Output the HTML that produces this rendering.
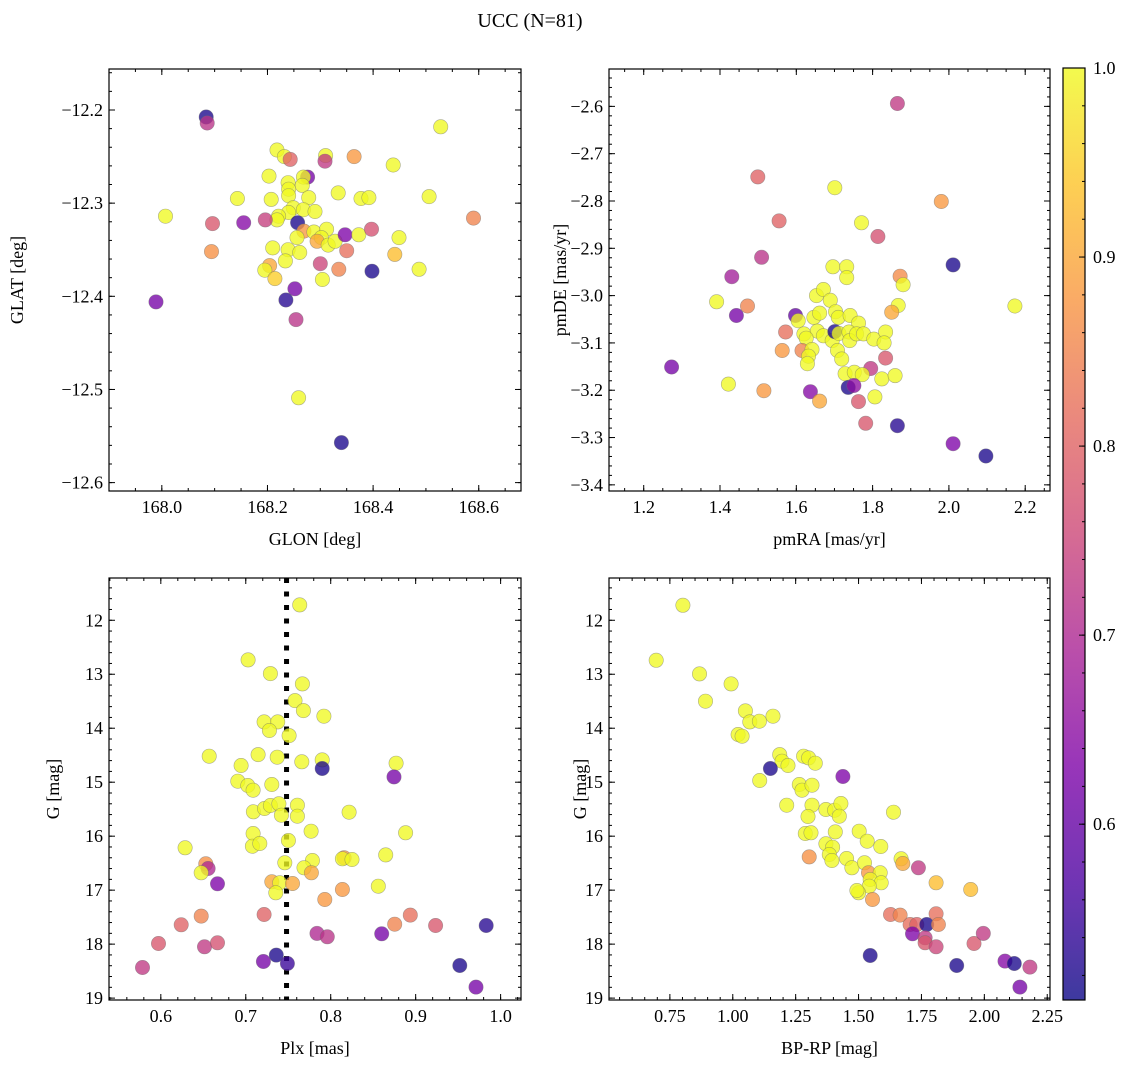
<!DOCTYPE html>
<html><head><meta charset="utf-8">
<style>
html,body{margin:0;padding:0;background:#fff;}
svg{display:block;font-family:"Liberation Serif","DejaVu Serif",serif;}
</style></head>
<body>
<svg id="fig" width="1136" height="1068" viewBox="0 0 1136 1068" xmlns="http://www.w3.org/2000/svg">
<defs>
<linearGradient id="cbgrad" x1="0" y1="1" x2="0" y2="0">
<stop offset="0" stop-color="#0d0887"/><stop offset="0.125" stop-color="#4c02a1"/><stop offset="0.25" stop-color="#7e03a8"/><stop offset="0.375" stop-color="#a92395"/><stop offset="0.5" stop-color="#cc4778"/><stop offset="0.625" stop-color="#e56b5d"/><stop offset="0.75" stop-color="#f89540"/><stop offset="0.875" stop-color="#fdc328"/><stop offset="1" stop-color="#f0f921"/>
</linearGradient>
</defs>
<text x="530" y="27" font-size="20" text-anchor="middle">UCC (N=81)</text>
</svg>
<script>
// ---------- data ----------
const p1Glon=[168.084,168.086,168.528,168.218,168.232,168.243,168.310,168.309,168.364,168.438,168.203,168.276,168.268,168.239,168.266,168.240,168.240,168.143,168.207,168.278,168.334,168.377,168.392,168.506,168.007,168.249,168.268,168.240,168.221,168.290,168.218,168.096,168.155,168.196,168.257,168.590,168.269,168.288,168.312,168.302,168.294,168.256,168.315,168.328,168.347,168.373,168.397,168.449,168.094,168.210,168.239,168.261,168.350,168.441,168.234,168.204,168.195,168.300,168.335,168.398,168.487,168.214,168.304,168.252,168.235,167.989,168.254,168.259,168.340];
const p1Glat=[-12.2075,-12.214,-12.218,-12.243,-12.250,-12.253,-12.249,-12.255,-12.250,-12.259,-12.271,-12.272,-12.272,-12.278,-12.281,-12.285,-12.292,-12.295,-12.296,-12.294,-12.289,-12.295,-12.294,-12.293,-12.314,-12.305,-12.307,-12.310,-12.314,-12.309,-12.318,-12.322,-12.321,-12.318,-12.321,-12.316,-12.330,-12.331,-12.328,-12.337,-12.341,-12.337,-12.345,-12.341,-12.334,-12.334,-12.328,-12.337,-12.352,-12.348,-12.350,-12.353,-12.351,-12.355,-12.362,-12.367,-12.372,-12.365,-12.371,-12.373,-12.371,-12.381,-12.382,-12.392,-12.404,-12.406,-12.425,-12.509,-12.557];
const p1Prob=[0.52,0.72,1,1,1,0.8,1,0.73,0.88,1,1,0.62,1,1,1,1,1,1,1,1,1,1,1,1,1,1,1,1,1,1,1,0.78,0.64,0.74,0.52,0.85,0.88,1,1,1,0.9,1,1,1,0.63,1,0.77,1,0.87,1,1,1,0.82,0.93,1,0.9,1,0.75,0.85,0.52,1,0.95,1,0.62,0.53,0.62,0.72,1,0.52];

const p2Pmra=[1.865,1.499,1.701,1.980,1.555,1.771,1.814,1.509,2.011,1.431,1.696,1.732,1.732,1.872,1.880,1.391,1.472,2.173,1.653,1.671,1.689,1.867,1.850,1.443,1.598,1.605,1.646,1.661,1.703,1.710,1.741,1.763,1.572,1.620,1.655,1.671,1.694,1.701,1.712,1.738,1.740,1.758,1.776,1.803,1.834,1.830,1.626,1.563,1.615,1.641,1.632,1.629,1.708,1.719,1.834,1.273,1.795,1.728,1.752,1.773,1.824,1.859,1.422,1.736,1.751,1.515,1.637,1.661,1.763,1.806,1.782,1.865,2.011,2.097];
const p2Pmde=[-2.594,-2.749,-2.772,-2.801,-2.842,-2.846,-2.875,-2.919,-2.935,-2.960,-2.939,-2.939,-2.962,-2.959,-2.977,-3.013,-3.022,-3.022,-3.000,-2.987,-3.010,-3.021,-3.035,-3.042,-3.042,-3.053,-3.046,-3.037,-3.034,-3.046,-3.042,-3.058,-3.077,-3.081,-3.075,-3.085,-3.095,-3.076,-3.080,-3.077,-3.095,-3.081,-3.081,-3.092,-3.077,-3.100,-3.090,-3.116,-3.116,-3.114,-3.128,-3.144,-3.116,-3.134,-3.132,-3.151,-3.154,-3.165,-3.162,-3.167,-3.176,-3.169,-3.187,-3.194,-3.190,-3.201,-3.203,-3.223,-3.224,-3.214,-3.270,-3.275,-3.313,-3.339];
const p2Prob=[0.73,0.8,1,0.88,0.8,1,0.77,0.72,0.52,0.68,1,1,1,0.86,1,1,0.85,1,1,1,1,1,0.9,0.62,0.6,1,1,1,1,1,1,1,0.82,1,1,1,1,0.52,1,1,1,1,1,1,1,1,1,0.88,0.85,1,1,1,1,1,0.78,0.62,0.73,1,1,1,1,1,1,0.52,0.65,0.88,0.64,0.9,0.78,1,0.78,0.53,0.63,0.52];

const p3Plx=[0.7635,0.7027,0.729,0.7667,0.758,0.7678,0.792,0.7216,0.7376,0.7278,0.751,0.657,0.7145,0.737,0.766,0.790,0.790,0.877,0.8745,0.6945,0.6906,0.7024,0.7086,0.7306,0.709,0.722,0.729,0.739,0.742,0.7608,0.7608,0.8216,0.7769,0.7086,0.8882,0.6286,0.7078,0.7165,0.7502,0.8647,0.8157,0.8137,0.825,0.7784,0.7459,0.6529,0.6557,0.6475,0.7686,0.7773,0.6667,0.7306,0.740,0.755,0.7353,0.856,0.8137,0.793,0.7216,0.6475,0.8937,0.624,0.8753,0.9235,0.983,0.7839,0.796,0.86,0.5973,0.6514,0.6667,0.736,0.7208,0.749,0.5784,0.952,0.971];
const p3G=[11.716,12.735,12.988,13.179,13.488,13.673,13.778,13.883,13.883,14.043,14.136,14.519,14.488,14.537,14.623,14.586,14.747,14.648,14.901,14.691,14.981,15.062,15.148,15.043,15.549,15.488,15.432,15.401,15.611,15.426,15.630,15.556,15.907,15.951,15.938,16.216,16.185,16.136,16.080,16.346,16.401,16.420,16.432,16.451,16.494,16.512,16.599,16.679,16.586,16.679,16.883,16.846,16.864,16.877,17.049,16.926,16.988,17.173,17.451,17.481,17.463,17.642,17.630,17.654,17.654,17.802,17.864,17.809,17.988,18.049,17.975,18.204,18.321,18.358,18.432,18.395,18.796];
const p3Prob=[1,1,1,1,1,1,1,1,1,1,1,1,1,1,1,1,0.52,1,0.62,1,1,1,1,1,1,1,1,1,1,1,1,1,1,1,1,1,1,1,1,1,0.88,1,1,1,1,0.87,0.7,1,1,0.9,0.63,0.9,1,0.9,1,1,0.88,0.88,0.8,0.85,0.82,0.8,0.85,0.78,0.53,0.7,0.72,0.62,0.78,0.73,0.77,0.52,0.62,0.55,0.73,0.52,0.62];
const plxRef=0.748;

const p4Bprp=[0.8016,0.6958,0.8677,0.9934,0.8915,1.050,1.0675,1.106,1.160,1.021,1.037,1.1865,1.1958,1.2196,1.2817,1.3016,1.328,1.1495,1.4378,1.107,1.2645,1.275,1.3148,1.2143,1.3148,1.370,1.4048,1.430,1.4233,1.299,1.6389,1.2884,1.3108,1.4074,1.5026,1.5344,1.370,1.3968,1.5886,1.3836,1.3942,1.4524,1.4735,1.5238,1.304,1.6693,1.676,1.738,1.5397,1.586,1.5463,1.590,1.5423,1.5,1.4934,1.8082,1.9458,1.5556,1.627,1.665,1.705,1.7315,1.771,1.7143,1.7646,1.7646,1.8082,1.8175,1.8082,1.5463,1.890,1.959,1.996,2.082,2.119,2.181,2.1415];
const p4G=[11.722,12.741,12.994,13.179,13.500,13.679,13.883,13.870,13.778,14.117,14.148,14.488,14.611,14.691,14.519,14.549,14.648,14.747,14.895,14.969,15.043,15.148,15.056,15.426,15.426,15.506,15.519,15.395,15.630,15.636,15.556,15.951,15.938,15.920,15.907,16.093,16.142,16.204,16.191,16.340,16.451,16.414,16.586,16.494,16.383,16.420,16.506,16.586,16.679,16.679,16.802,16.864,16.926,17.049,17.006,16.864,16.988,17.173,17.451,17.463,17.636,17.636,17.636,17.809,17.883,17.975,17.438,17.636,18.049,18.210,18.395,17.988,17.802,18.315,18.358,18.426,18.796];
const p4Prob=[1,1,1,1,1,1,1,1,1,1,1,1,1,1,1,1,1,0.52,0.63,1,1,1,1,1,1,1,1,1,1,1,1,1,1,1,1,1,1,1,1,1,1,1,1,1,0.87,1,0.9,0.73,0.88,1,1,1,1,1,1,0.93,0.93,0.88,0.82,0.85,0.82,0.8,0.52,0.63,0.73,0.78,0.82,0.85,0.75,0.52,0.52,0.78,0.73,0.64,0.52,0.73,0.62];

const cbTicks=[0.6,0.7,0.8,0.9,1.0];
const cbMin=0.507, cbMax=1.0;

// ---------- helpers ----------
const NS="http://www.w3.org/2000/svg";
const svg=document.getElementById('fig');
function mk(tag,attrs,parent){const e=document.createElementNS(NS,tag);for(const k in attrs)e.setAttribute(k,attrs[k]);(parent||svg).appendChild(e);return e;}
const stops=[[13,8,135],[76,2,161],[126,3,168],[169,35,149],[204,71,120],[229,107,93],[248,149,64],[253,195,40],[240,249,33]];
function plasma(v){let t=(v-cbMin)/(cbMax-cbMin);t=Math.max(0,Math.min(1,t))*8;const i=Math.min(7,Math.floor(t)),f=t-i;const a=stops[i],b=stops[i+1];return 'rgb('+[0,1,2].map(k=>Math.round(a[k]+(b[k]-a[k])*f)).join(',')+')';}
function fmt(v,d){return (v<0?'\u2212':'')+Math.abs(v).toFixed(d);}

function panel(cfg){
  const g=mk('g',{});
  
  
  const L=cfg.box[0],T=cfg.box[1],R=cfg.box[2],B=cfg.box[3];
  const sx=v=>L+(v-cfg.xlim[0])/(cfg.xlim[1]-cfg.xlim[0])*(R-L);
  const sy=v=>cfg.yinv? T+(v-cfg.ylim[0])/(cfg.ylim[1]-cfg.ylim[0])*(B-T) : B-(v-cfg.ylim[0])/(cfg.ylim[1]-cfg.ylim[0])*(B-T);
  if(cfg.vline!==undefined){
    const vl=mk('line',{x1:sx(cfg.vline),x2:sx(cfg.vline),y1:T,y2:B,stroke:'#000','stroke-width':5,'stroke-dasharray':'5 8.5'},g);
    
    
  }
  const pts=mk('g',{},g);
  
  
  for(let i=0;i<cfg.xs.length;i++){
    const c=mk('circle',{cx:sx(cfg.xs[i]).toFixed(1),cy:sy(cfg.ys[i]).toFixed(1),r:7.2,fill:plasma(cfg.ps[i]),'fill-opacity':0.78,stroke:'#6e6e6e','stroke-opacity':0.55,'stroke-width':0.6},pts);
    
    
  }
  const tk=mk('g',{stroke:'#000','stroke-width':1},g);
  
  
  const eps=1e-9;
  function range(lo,hi,step){const a=[];let s=Math.ceil(lo/step-eps);for(let k=s;k*step<=hi+eps;k++)a.push(+(k*step).toFixed(6));return a;}
  range(cfg.xlim[0],cfg.xlim[1],cfg.xminor).forEach(v=>{const x=sx(v);mk('line',{x1:x,x2:x,y1:B,y2:B-3},tk);mk('line',{x1:x,x2:x,y1:T,y2:T+3},tk);});
  range(cfg.ylim[0],cfg.ylim[1],cfg.yminor).forEach(v=>{const y=sy(v);mk('line',{x1:L,x2:L+3,y1:y,y2:y},tk);mk('line',{x1:R,x2:R-3,y1:y,y2:y},tk);});
  cfg.xticks.forEach(v=>{const x=sx(v);mk('line',{x1:x,x2:x,y1:B,y2:B-6},tk);mk('line',{x1:x,x2:x,y1:T,y2:T+6},tk);
    const t=mk('text',{x:x,y:B+22,'font-size':18,'text-anchor':'middle'},g);t.textContent=fmt(v,cfg.xdec);
    
    });
  cfg.yticks.forEach(v=>{const y=sy(v);mk('line',{x1:L,x2:L+6,y1:y,y2:y},tk);mk('line',{x1:R,x2:R-6,y1:y,y2:y},tk);
    const t=mk('text',{x:L-6,y:y+6,'font-size':18,'text-anchor':'end'},g);t.textContent=fmt(v,cfg.ydec);
    
    });
  const fr=mk('rect',{x:L,y:T,width:R-L,height:B-T,fill:'none',stroke:'#000','stroke-width':1.2},g);
  
  
  const xl=mk('text',{x:(L+R)/2,y:B+54,'font-size':18,'text-anchor':'middle'},g);xl.textContent=cfg.xlabel;
  
  
  const yx=cfg.ylx, yy=(T+B)/2;
  const yl=mk('text',{x:yx,y:yy,'font-size':18,'text-anchor':'middle',transform:'rotate(-90 '+yx+' '+yy+')'},g);yl.textContent=cfg.ylabel;
  
  
}

panel({name:'glon-glat-panel',box:[109,69,521,491],xlim:[167.9,168.68],ylim:[-12.609,-12.156],xs:p1Glon,ys:p1Glat,ps:p1Prob,
  xticks:[168.0,168.2,168.4,168.6],yticks:[-12.6,-12.5,-12.4,-12.3,-12.2],xminor:0.05,yminor:0.02,xdec:1,ydec:1,xlabel:'GLON [deg]',ylabel:'GLAT [deg]',ylx:23});
panel({name:'proper-motion-panel',box:[609,69,1050,491],xlim:[1.109,2.265],ylim:[-3.413,-2.521],xs:p2Pmra,ys:p2Pmde,ps:p2Prob,
  xticks:[1.2,1.4,1.6,1.8,2.0,2.2],yticks:[-3.4,-3.3,-3.2,-3.1,-3.0,-2.9,-2.8,-2.7,-2.6],xminor:0.05,yminor:0.02,xdec:1,ydec:1,xlabel:'pmRA [mas/yr]',ylabel:'pmDE [mas/yr]',ylx:566});
panel({name:'parallax-magnitude-panel',box:[109,578,521,1000],xlim:[0.539,1.024],ylim:[11.217,19.035],yinv:true,xs:p3Plx,ys:p3G,ps:p3Prob,vline:plxRef,
  xticks:[0.6,0.7,0.8,0.9,1.0],yticks:[12,13,14,15,16,17,18,19],xminor:0.02,yminor:0.2,xdec:1,ydec:0,xlabel:'Plx [mas]',ylabel:'G [mag]',ylx:59});
panel({name:'color-magnitude-panel',box:[609,578,1050,1000],xlim:[0.508,2.261],ylim:[11.217,19.035],yinv:true,xs:p4Bprp,ys:p4G,ps:p4Prob,
  xticks:[0.75,1.0,1.25,1.5,1.75,2.0,2.25],yticks:[12,13,14,15,16,17,18,19],xminor:0.05,yminor:0.2,xdec:2,ydec:0,xlabel:'BP-RP [mag]',ylabel:'G [mag]',ylx:586});

// colorbar
(function(){
  const L=1063,R=1085,T=68,B=1000;
  const g=mk('g',{});
  
  
  mk('rect',{x:L,y:T,width:R-L,height:B-T,fill:'url(#cbgrad)','fill-opacity':0.8},g);
  const sy=v=>B-(v-cbMin)/(cbMax-cbMin)*(B-T);
  for(let k=26;k<=50;k++){const v=k*0.02;if(v<cbMin||v>cbMax+1e-9)continue;const y=sy(v);mk('line',{x1:R,x2:R-3,y1:y,y2:y,stroke:'#000'},g);}
  cbTicks.forEach(v=>{const y=sy(v);mk('line',{x1:R,x2:R-6,y1:y,y2:y,stroke:'#000'},g);
    const t=mk('text',{x:R+8,y:y+6,'font-size':18},g);t.textContent=v.toFixed(1);
    
    });
  mk('rect',{x:L,y:T,width:R-L,height:B-T,fill:'none',stroke:'#000','stroke-width':1.2},g);
})();
</script>
</body></html>
